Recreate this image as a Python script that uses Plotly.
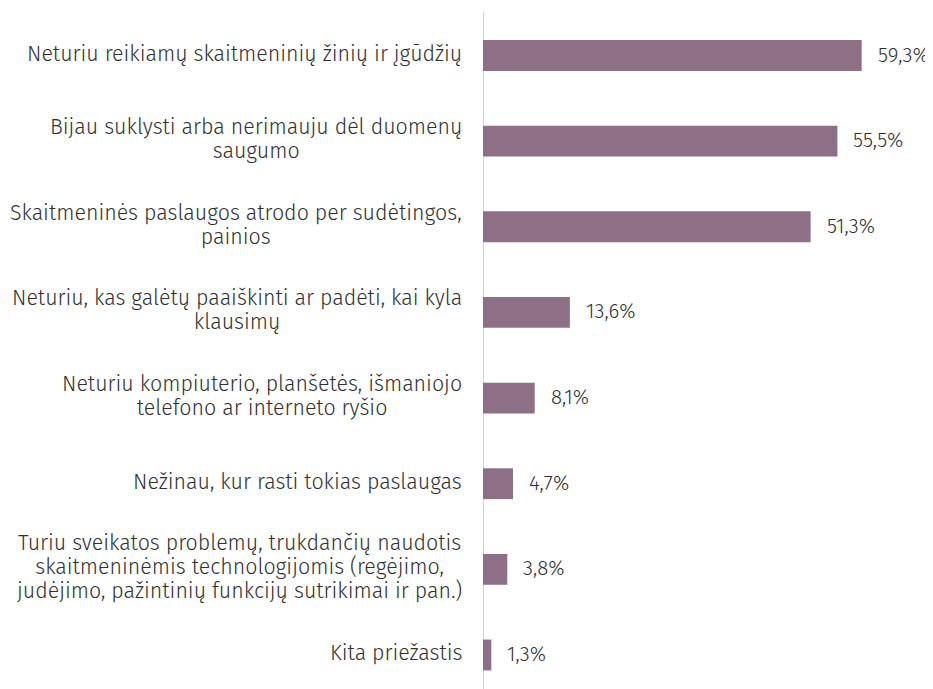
import plotly.graph_objects as go

categories = [
    "Neturiu reikiamų skaitmeninių žinių ir įgūdžių",
    "Bijau suklysti arba nerimauju dėl duomenų<br>saugumo",
    "Skaitmeninės paslaugos atrodo per sudėtingos,<br>painios",
    "Neturiu, kas galėtų paaiškinti ar padėti, kai kyla<br>klausimų",
    "Neturiu kompiuterio, planšetės, išmaniojo<br>telefono ar interneto ryšio",
    "Nežinau, kur rasti tokias paslaugas",
    "Turiu sveikatos problemų, trukdančių naudotis<br>skaitmeninėmis technologijomis (regėjimo,<br>judėjimo, pažintinių funkcijų sutrikimai ir pan.)",
    "Kita priežastis",
]
values = [59.3, 55.5, 51.3, 13.6, 8.1, 4.7, 3.8, 1.3]
value_labels = ["59,3%", "55,5%", "51,3%", "13,6%", "8,1%", "4,7%", "3,8%", "1,3%"]

BAR_COLOR = "#8D6F86"
TEXT_COLOR = "#303030"
FONT = "Fira Sans Light, Fira Sans, Open Sans, sans-serif"

fig = go.Figure()
fig.add_trace(go.Bar(
    x=values, y=categories, orientation="h",
    marker=dict(color=BAR_COLOR, line=dict(width=0)),
    width=0.36, hoverinfo="skip",
))

for c, v, lab in zip(categories, values, value_labels):
    fig.add_annotation(x=v, y=c, xref="x", yref="y", text=lab, showarrow=False,
                       xanchor="left", xshift=14, yshift=1,
                       font=dict(size=20.5, color=TEXT_COLOR, family=FONT, weight=300))
    styled = "<br>".join('<span style="font-size:21.4px">%s</span>' % ln for ln in c.split("<br>"))
    fig.add_annotation(x=0, y=c, xref="paper", yref="y", text=styled, showarrow=False,
                       xanchor="right", xshift=-19, yshift=2, align="center",
                       font=dict(size=18.5, color=TEXT_COLOR, family=FONT, weight=300))

fig.update_layout(
    width=933, height=689,
    margin=dict(l=475, r=11, t=4, b=8),
    plot_bgcolor="white", paper_bgcolor="white",
    showlegend=False,
    xaxis=dict(range=[0, 70], visible=False, fixedrange=True),
    yaxis=dict(range=[7.397, -0.508], showticklabels=False, showgrid=False,
               zeroline=False, showline=False, ticks=""),
    shapes=[dict(type="line", xref="x", yref="paper", x0=0, x1=0, y0=0, y1=1,
                 line=dict(color="#d4d4d4", width=2), layer="below")],
)

fig.write_html("out.html")
